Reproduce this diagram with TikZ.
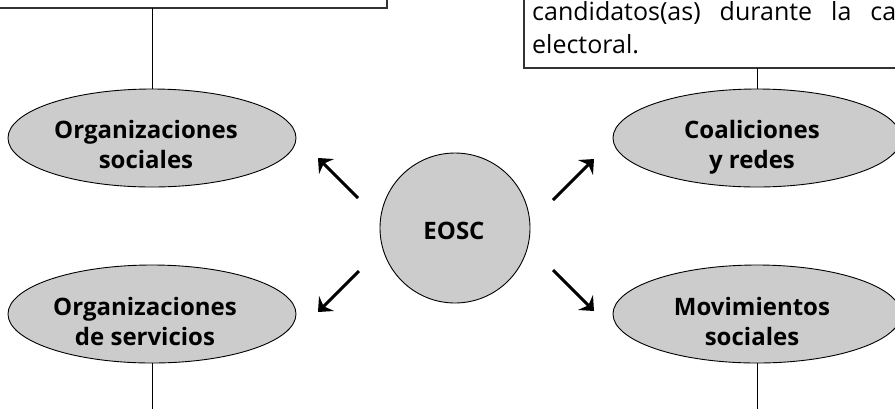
\documentclass[tikz,border=0pt]{standalone}
\usepackage{fontspec}
\setmainfont{Open Sans}
\usetikzlibrary{arrows.meta,shapes.geometric}
\definecolor{bubble}{HTML}{CCCCCC}
\definecolor{boxline}{HTML}{333333}
\newcommand{\twoline}[2]{\vtop{\halign{\hfil##\hfil\cr #1\cr #2\cr}}}
\begin{document}
\begin{tikzpicture}[x=1bp,y=-1bp,
  bub/.style={ellipse,draw=black,line width=0.9bp,fill=bubble,inner sep=0pt,
    minimum width=288bp,minimum height=98bp},
  lbl/.style={anchor=base,inner sep=0pt,font=\fontsize{24bp}{30bp}\selectfont\bfseries},
  boxtxt/.style={anchor=base west,inner sep=0pt,font=\fontsize{25bp}{33bp}\selectfont},
  link/.style={draw=black,line width=0.9bp},
  boxedge/.style={draw=boxline,line width=1.4bp},
  bigarrow/.style={draw=black,line width=3bp,-{Stealth[length=12bp,width=21bp,inset=4bp]}}]
\useasboundingbox (0,0) rectangle (895,408);
\clip (0,0) rectangle (895,408);
% boxes (partly outside the picture)
\draw[boxedge] (-5,8) -- (387,8) -- (387,-5);
\draw[boxedge] (524,-5) -- (524,68) -- (900,68);
\node[boxtxt] (t1) at (532,20) {\makebox[364bp][s]{candidatos(as) durante la ca}};
\node[boxtxt] (t2) at (532,53) {electoral.};
% ellipses
\node[bub] (os) at (152,138) {};
\node[bub] (cr) at (757,138) {};
\node[bub] (osv) at (152,314) {};
\node[bub] (ms) at (757,314) {};
\node[circle,draw=black,line width=0.9bp,fill=bubble,minimum size=150bp,inner sep=0pt] (eosc) at (455,228) {};
% labels
\node[lbl] (osl) at (146,138) {\twoline{Organizaciones}{sociales}};
\node[lbl] (crl) at (752,138) {\twoline{Coaliciones}{y redes}};
\node[lbl] (osvl) at (145,315) {\twoline{Organizaciones}{de servicios}};
\node[lbl] (msl) at (752,315) {\twoline{Movimientos}{sociales}};
\node[lbl] (eoscl) at (454,239) {EOSC};
% connectors to boxes
\coordinate (lb) at (152,8);
\coordinate (rb) at (757,68);
\coordinate (lbot) at (152,412);
\coordinate (rbot) at (757,412);
\draw[link] (lb) -- (os.north);
\draw[link] (rb) -- (cr.north);
\draw[link] (osv.south) -- (lbot);
\draw[link] (ms.south) -- (rbot);
% arrows
\coordinate (a1s) at (358,198); \coordinate (a1e) at (318,158);
\coordinate (a2s) at (553,200); \coordinate (a2e) at (594,159);
\coordinate (a3s) at (359,271); \coordinate (a3e) at (318,312);
\coordinate (a4s) at (553,270); \coordinate (a4e) at (594,311);
\draw[bigarrow] (a1s) -- (a1e);
\draw[bigarrow] (a2s) -- (a2e);
\draw[bigarrow] (a3s) -- (a3e);
\draw[bigarrow] (a4s) -- (a4e);
\end{tikzpicture}
\end{document}
